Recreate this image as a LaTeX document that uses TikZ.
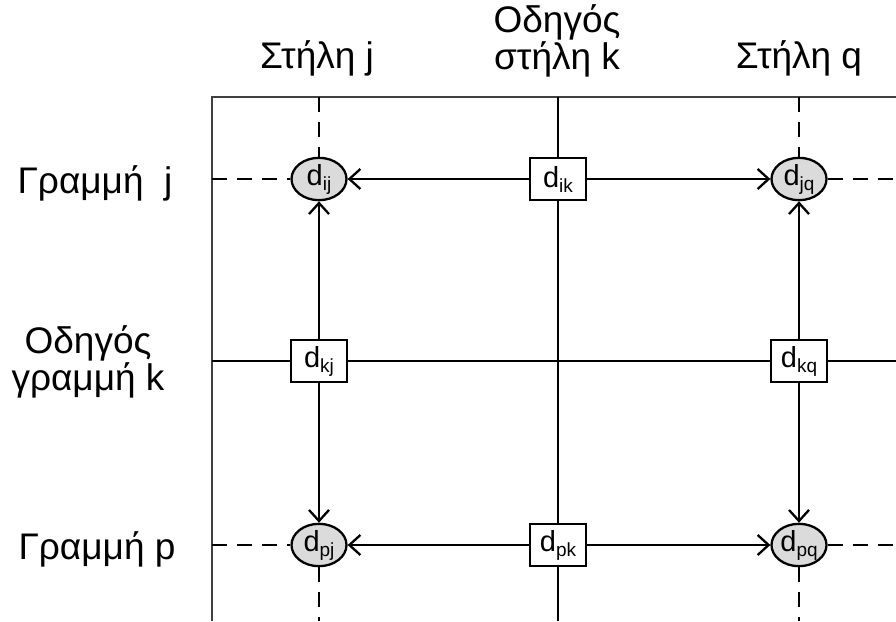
\documentclass[tikz,border=0pt]{standalone}
\usepackage{fontspec}
\setmainfont{Liberation Sans}
\usetikzlibrary{arrows.meta,positioning,shapes.geometric}
\newcommand{\dsub}[1]{d\raisebox{-5pt}{\fontsize{19}{19}\selectfont #1}}

\begin{document}
\begin{tikzpicture}[x=1pt, y=-1pt, line width=2.3pt,
        every node/.style={font=\fontsize{37}{33}\selectfont},
        lbl/.style={align=center, inner sep=0pt},
        box/.style={draw, fill=white, minimum width=56pt, minimum height=42pt, inner sep=0pt, font=\fontsize{29}{29}\selectfont},
        oval/.style={draw, ellipse, fill=gray!28, minimum width=55pt, minimum height=42pt, inner sep=0pt, font=\fontsize{29}{29}\selectfont},
        arr/.style={-{Straight Barb[length=11pt, width=20pt]}},
        dline/.style={dash pattern=on 15pt off 10pt},
        frame/.style={line width=1.4pt, draw=black!75}]
  \useasboundingbox (0,0) rectangle (896,621);
  % labels
  \node[lbl, anchor=base] (cj) at (317,68) {Στήλη j};
  \node[lbl] (ck) at (557,41) {Οδηγός\\στήλη k};
  \node[lbl, anchor=base] (cq) at (799,68) {Στήλη q};
  \node[lbl, anchor=base] (rj) at (95,193) {Γραμμή~ j};
  \node[lbl, font=\fontsize{37}{31}\selectfont] (rk) at (88,362) {Οδηγός\\γραμμή k};
  \node[lbl, anchor=base] (rp) at (97,559) {Γραμμή p};
  % frame
  \coordinate (fl) at (212,97);
  \coordinate (fb) at (212,621);
  \coordinate (fr) at (896,97);
  \draw[frame] (fb) -- (fl) -- (fr);
  % elements
  \node[oval] (ij) at (319,179) {\dsub{ij}};
  \node[box] (ik) at (558,179) {\dsub{ik}};
  \node[oval] (jq) at (799,179) {\dsub{jq}};
  \node[box] (kj) at (319,361) {\dsub{kj}};
  \node[box] (kq) at (799,361) {\dsub{kq}};
  \node[oval] (pj) at (319,545) {\dsub{pj}};
  \node[box] (pk) at (558,545) {\dsub{pk}};
  \node[oval] (pq) at (799,545) {\dsub{pq}};
  % free ends
  \coordinate (tj) at (319,97);
  \coordinate (tk) at (558,97);
  \coordinate (tq) at (799,97);
  \coordinate (bj) at (319,621);
  \coordinate (bk) at (558,621);
  \coordinate (bq) at (799,621);
  \coordinate (lj) at (212,179);
  \coordinate (lk) at (212,361);
  \coordinate (lp) at (212,545);
  \coordinate (ej) at (896,179);
  \coordinate (ek) at (896,361);
  \coordinate (ep) at (896,545);
  % pivot row and column
  \draw (lk) -- (kj) -- (kq) -- (ek);
  \draw (tk) -- (ik) -- (pk) -- (bk);
  % dashed parts
  \draw[dline] (tj) -- (ij);
  \draw[dline] (pj) -- (bj);
  \draw[dline] (tq) -- (jq);
  \draw[dline] (pq) -- (bq);
  \draw[dline] (lj) -- (ij);
  \draw[dline] (jq) -- (ej);
  \draw[dline] (lp) -- (pj);
  \draw[dline] (pq) -- (ep);
  % updates
  \draw[arr] (ik) -- (ij);
  \draw[arr] (ik) -- (jq);
  \draw[arr] (pk) -- (pj);
  \draw[arr] (pk) -- (pq);
  \draw[arr] (kj) -- (ij);
  \draw[arr] (kj) -- (pj);
  \draw[arr] (kq) -- (jq);
  \draw[arr] (kq) -- (pq);
\end{tikzpicture}
\end{document}
